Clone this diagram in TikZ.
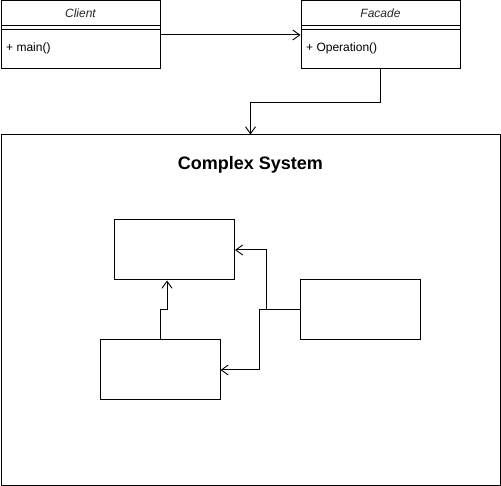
\documentclass[tikz,border=0pt]{standalone}
\usepackage{fontspec}
\setmainfont{Liberation Sans}
\usetikzlibrary{arrows.meta}
\begin{document}
\begin{tikzpicture}[x=1pt,y=-1pt,
  box/.style={draw=black, line width=1pt, inner sep=0pt, minimum width=120pt, minimum height=60pt},
  cls/.style={draw=black, line width=1pt, inner sep=0pt, minimum width=159pt, minimum height=68pt},
  con/.style={draw=black, line width=1pt, -{Straight Barb[length=7pt,width=10pt,line width=0.9pt]}},
  txt/.style={font=\fontsize{12}{14}\selectfont, inner sep=0pt, anchor=west},
  hdr/.style={font=\fontsize{12}{14}\selectfont\itshape, inner sep=0pt, text=black!85}]
\useasboundingbox (0,0) rectangle (501,486);
% class boxes
\node[cls] (client) at (80.5,35) {};
\node[cls] (facade) at (380.5,35) {};
\draw[line width=1pt] (client.west |- 0,26) -- (client.east |- 0,26);
\draw[line width=1pt] (client.west |- 0,30) -- (client.east |- 0,30);
\draw[line width=1pt] (facade.west |- 0,26) -- (facade.east |- 0,26);
\draw[line width=1pt] (facade.west |- 0,30) -- (facade.east |- 0,30);
\node[hdr] (clientname) at (80.5,13.5) {Client};
\node[hdr] (facadename) at (380.5,13.5) {Facade};
\node[txt] (clientop) at (6,48) {+ main()};
\node[txt] (facadeop) at (306,48) {+ Operation()};
% system
\node[draw=black, line width=1pt, inner sep=0pt, minimum width=499pt, minimum height=350pt] (sys) at (250.5,310) {};
\node[font=\fontsize{18}{21}\selectfont\bfseries, inner sep=0pt] (title) at (250.5,165) {Complex System};
\node[box] (A) at (174.5,250) {};
\node[box] (B) at (160,370) {};
\node[box] (C) at (360,310) {};
% connectors
\draw[con] (client.east) -- (facade.west);
\draw[con] (facade.south) -- ++(0,33) -| (sys.north);
\draw[con] (B.north) -- ++(0,-30) -| ([xshift=-7.5pt]A.south);
\draw[con] (C.west) -- ++(-33,0) |- (A.east);
\draw[con] (C.west) -- ++(-40,0) |- (B.east);
\end{tikzpicture}
\end{document}
